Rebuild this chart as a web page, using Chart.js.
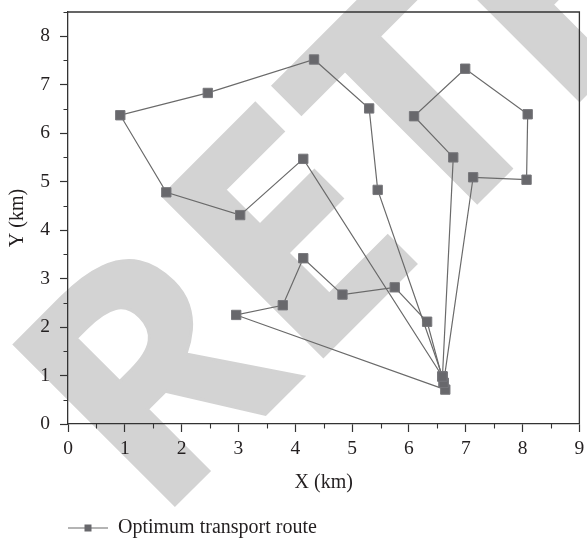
<!DOCTYPE html>
<html><head><meta charset="utf-8">
<script src="https://cdn.jsdelivr.net/npm/chart.js@4/dist/chart.umd.min.js"></script>
<style>html,body{margin:0;padding:0;background:#fff;}#wrap{width:587px;height:541px;}</style>
</head><body><div id="wrap"><canvas id="c" width="587" height="541"></canvas></div>
<script>
const xTicks = [0,1,2,3,4,5,6,7,8,9];
const yTicks = [0,1,2,3,4,5,6,7,8];
const depotX = [6.59, 6.61, 6.64];
const depotY = [0.98, 0.85, 0.71];
const route1X = [4.14, 3.03, 1.73, 0.92, 2.46, 4.33, 5.30, 5.45];
const route1Y = [5.47, 4.31, 4.78, 6.37, 6.83, 7.52, 6.51, 4.83];
const route2X = [6.78, 6.09, 6.99, 8.09, 8.07, 7.13];
const route2Y = [5.50, 6.35, 7.33, 6.39, 5.04, 5.09];
const route3X = [2.96, 3.78, 4.14, 4.83, 5.75, 6.32];
const route3Y = [2.25, 2.45, 3.42, 2.67, 2.82, 2.11];
const seriesLabel = 'Optimum transport route';
const watermarkText = 'RETRACTED';

const AXIS = '#333333', TXT = '#231f20', LINE = '#6a6a6a', MARK = '#68686c';
const SERIF = '"Liberation Serif", "Times New Roman", serif';

function buildRoute(xs, ys, startIdx, endIdx) {
  const pts = [{x: depotX[startIdx], y: depotY[startIdx]}];
  xs.forEach((x, i) => pts.push({x, y: ys[i]}));
  pts.push({x: depotX[endIdx], y: depotY[endIdx]});
  return pts;
}
const dsStyle = {
  showLine: true, borderColor: LINE, borderWidth: 1.2,
  pointStyle: 'rect', pointRadius: 6.6, pointHoverRadius: 6.6,
  pointBackgroundColor: MARK, pointBorderColor: '#77777b', pointBorderWidth: 1
};

const watermark = {
  id: 'watermark',
  beforeDraw(chart) {
    const ctx = chart.ctx;
    const sw = 3;
    ctx.save();
    ctx.fillStyle = '#d3d3d3';
    ctx.strokeStyle = '#d3d3d3';
    ctx.lineWidth = sw;
    ctx.lineJoin = 'miter';
    ctx.textAlign = 'left';
    ctx.textBaseline = 'alphabetic';
    ctx.font = '700 100px "Open Sans"';
    const cap = ctx.measureText('E').actualBoundingBoxAscent;
    const size = 100 * (232 - sw) / cap;
    ctx.font = '700 ' + size + 'px "Open Sans"';
    const m = ctx.measureText('R');
    ctx.translate(341, 341);
    ctx.rotate(-Math.PI / 4);
    const x0 = -238.6 + sw / 2 + m.actualBoundingBoxLeft;
    const y0 = -sw / 2;
    ctx.fillText(watermarkText, x0, y0);
    ctx.strokeText(watermarkText, x0, y0);
    ctx.restore();
  }
};

const frame = {
  id: 'frame',
  afterDraw(chart) {
    const {ctx, chartArea: a, scales: {x, y}} = chart;
    ctx.save();
    ctx.strokeStyle = AXIS;
    ctx.lineWidth = 1.3;
    ctx.beginPath();
    ctx.moveTo(a.left, a.top); ctx.lineTo(a.right, a.top); ctx.lineTo(a.right, a.bottom);
    ctx.stroke();
    ctx.lineWidth = 1.1;
    ctx.beginPath();
    for (let i = 0; i < xTicks.length - 1; i++) {
      const px = Math.round(x.getPixelForValue((xTicks[i] + xTicks[i + 1]) / 2)) + 0.5;
      ctx.moveTo(px, a.bottom); ctx.lineTo(px, a.bottom + 4.5);
    }
    for (let i = 0; i < yTicks.length; i++) {
      const v = yTicks[i] + 0.5;
      const py = Math.round(y.getPixelForValue(v)) + 0.5;
      ctx.moveTo(a.left, py); ctx.lineTo(a.left - 4.5, py);
    }
    ctx.stroke();
    // legend
    const ly = 528;
    ctx.strokeStyle = LINE; ctx.lineWidth = 1.2;
    ctx.beginPath(); ctx.moveTo(68, ly); ctx.lineTo(108, ly); ctx.stroke();
    ctx.fillStyle = MARK;
    ctx.fillRect(84.5, ly - 3.5, 7, 7);
    ctx.fillStyle = TXT;
    ctx.font = '20px ' + SERIF;
    ctx.textAlign = 'left'; ctx.textBaseline = 'middle';
    ctx.fillText(seriesLabel, 118, ly);
    ctx.restore();
  }
};

const tickFont = {family: SERIF, size: 19.5};
const titleFont = {family: SERIF, size: 20};

new Chart(document.getElementById('c'), {
  type: 'scatter',
  data: {
    datasets: [
      Object.assign({label: seriesLabel, data: buildRoute(route1X, route1Y, 0, 0)}, dsStyle),
      Object.assign({label: seriesLabel, data: buildRoute(route2X, route2Y, 0, 1)}, dsStyle),
      Object.assign({label: seriesLabel, data: buildRoute(route3X, route3Y, 2, 1)}, dsStyle)
    ]
  },
  options: {
    responsive: false, devicePixelRatio: 1, animation: false,
    layout: {padding: {top: 12, right: 6, bottom: 46, left: 0}},
    plugins: {legend: {display: false}, tooltip: {enabled: false}},
    scales: {
      x: {
        type: 'linear', min: 0, max: 9, position: 'bottom',
        afterBuildTicks: s => { s.ticks = xTicks.map(v => ({value: v})); },
        afterFit: s => { s.height = 71; s.paddingLeft = 0; s.paddingRight = 0; },
        grid: {drawOnChartArea: false, drawTicks: true, tickLength: 8, tickColor: AXIS, tickWidth: 1.2},
        border: {display: true, color: AXIS, width: 1.3},
        ticks: {color: TXT, font: tickFont, padding: 5.5, maxRotation: 0, autoSkip: false},
        title: {display: true, text: 'X (km)', color: TXT, font: titleFont, padding: {top: 0, bottom: 0}}
      },
      y: {
        type: 'linear', min: 0, max: 8.5,
        afterBuildTicks: s => { s.ticks = yTicks.map(v => ({value: v})); },
        afterFit: s => { s.width = 68; s.paddingTop = 0; s.paddingBottom = 0; },
        grid: {drawOnChartArea: false, drawTicks: true, tickLength: 8, tickColor: AXIS, tickWidth: 1.2},
        border: {display: true, color: AXIS, width: 1.3},
        ticks: {color: TXT, font: tickFont, padding: 10, autoSkip: false},
        title: {display: true, text: 'Y (km)', color: TXT, font: titleFont, padding: {top: 6, bottom: 0}}
      }
    }
  },
  plugins: [watermark, frame]
});
</script></body></html>
